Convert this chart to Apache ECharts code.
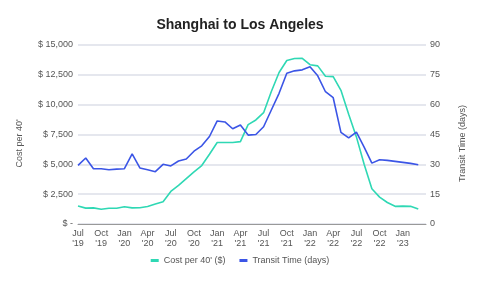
<!DOCTYPE html>
<html>
<head>
<meta charset="utf-8">
<script src="https://cdn.jsdelivr.net/npm/echarts@6/dist/echarts.min.js"></script>
<style>html,body{margin:0;padding:0;background:#fff;}#c{width:480px;height:281px;}</style>
</head>
<body>
<div id="c"></div>
<script>
const categories = [
 "Jul '19","Aug '19","Sep '19","Oct '19","Nov '19","Dec '19",
 "Jan '20","Feb '20","Mar '20","Apr '20","May '20","Jun '20","Jul '20","Aug '20","Sep '20","Oct '20","Nov '20","Dec '20",
 "Jan '21","Feb '21","Mar '21","Apr '21","May '21","Jun '21","Jul '21","Aug '21","Sep '21","Oct '21","Nov '21","Dec '21",
 "Jan '22","Feb '22","Mar '22","Apr '22","May '22","Jun '22","Jul '22","Aug '22","Sep '22","Oct '22","Nov '22","Dec '22",
 "Jan '23","Feb '23","Mar '23","Apr '23"
];
const tickLabels = ["Jul '19","Oct '19","Jan '20","Apr '20","Jul '20","Oct '20","Jan '21","Apr '21","Jul '21","Oct '21","Jan '22","Apr '22","Jul '22","Oct '22","Jan '23"];
const costPer40 = [1500,1330,1350,1230,1320,1320,1450,1350,1360,1470,1680,1870,2730,3230,3800,4370,4900,5850,6830,6830,6830,6900,8330,8720,9330,11100,12700,13700,13870,13880,13350,13250,12380,12350,11200,9200,7300,5000,2950,2250,1800,1480,1500,1480,1250,null];
const transitDays = [29.5,33.2,27.8,27.8,27.3,27.6,27.8,35.3,28.2,27.3,26.3,30,29.2,31.7,32.7,36.6,39.3,44,51.8,51.3,47.9,49.8,44.7,45,48.9,57.3,65.7,75.8,77,77.5,79.1,74.5,66.5,63.5,46.1,43.3,46.2,38.7,30.6,32.3,32,31.5,31,30.5,29.8,null];
const leftTicks = [0,2500,5000,7500,10000,12500,15000];
const rightTicks = [0,15,30,45,60,75,90];

const chart = echarts.init(document.getElementById('c'), null, {renderer:'canvas'});
const font = '"Liberation Sans", Arial, sans-serif';
chart.setOption({
  animation:false,
  textStyle:{fontFamily:font},
  title:{text:'Shanghai to Los Angeles',left:'center',top:13,
    textStyle:{fontSize:14,fontWeight:'bold',color:'#222',fontFamily:font}},
  grid:{left:78,right:54,top:45,bottom:57},
  legend:{bottom:11,left:'center',icon:'rect',itemWidth:8,itemHeight:3,itemGap:14,
    textStyle:{fontSize:9,color:'#555',fontFamily:font},
    data:["Cost per 40' ($)","Transit Time (days)"]},
  xAxis:{type:'category',data:categories,boundaryGap:false,
    axisLine:{lineStyle:{color:'#999',width:1}},axisTick:{show:false},
    axisLabel:{interval:(i,v)=>tickLabels.indexOf(v)>=0,fontSize:9,color:'#555',margin:5,lineHeight:10,
      formatter:v=>v.replace(' ','\n')}},
  yAxis:[
    {type:'value',min:leftTicks[0],max:leftTicks[leftTicks.length-1],interval:2500,
     name:"Cost per 40'",nameLocation:'middle',nameGap:54,nameRotate:90,
     nameTextStyle:{fontSize:9,color:'#555',padding:[0,18,0,0]},
     axisLine:{show:false},axisTick:{show:false},
     axisLabel:{fontSize:9,color:'#555',margin:5,
       formatter:v=>v===0?'$ -':'$ '+v.toLocaleString('en-US')},
     splitLine:{lineStyle:{color:'#dcdfe8',width:1.5}}},
    {type:'value',min:rightTicks[0],max:rightTicks[rightTicks.length-1],interval:15,
     name:'Transit Time (days)',nameLocation:'middle',nameGap:32,nameRotate:90,
     nameTextStyle:{fontSize:9,color:'#555',padding:[0,18,0,0]},
     axisLine:{show:false},axisTick:{show:false},
     axisLabel:{fontSize:9,color:'#555',margin:4},
     splitLine:{show:false}}
  ],
  series:[
    {name:"Cost per 40' ($)",type:'line',yAxisIndex:0,data:costPer40,showSymbol:false,
     lineStyle:{color:'#2fd8b4',width:1.6},itemStyle:{color:'#2fd8b4'}},
    {name:'Transit Time (days)',type:'line',yAxisIndex:1,data:transitDays,showSymbol:false,
     lineStyle:{color:'#3b55e6',width:1.6},itemStyle:{color:'#3b55e6'}}
  ]
});
</script>
</body>
</html>
